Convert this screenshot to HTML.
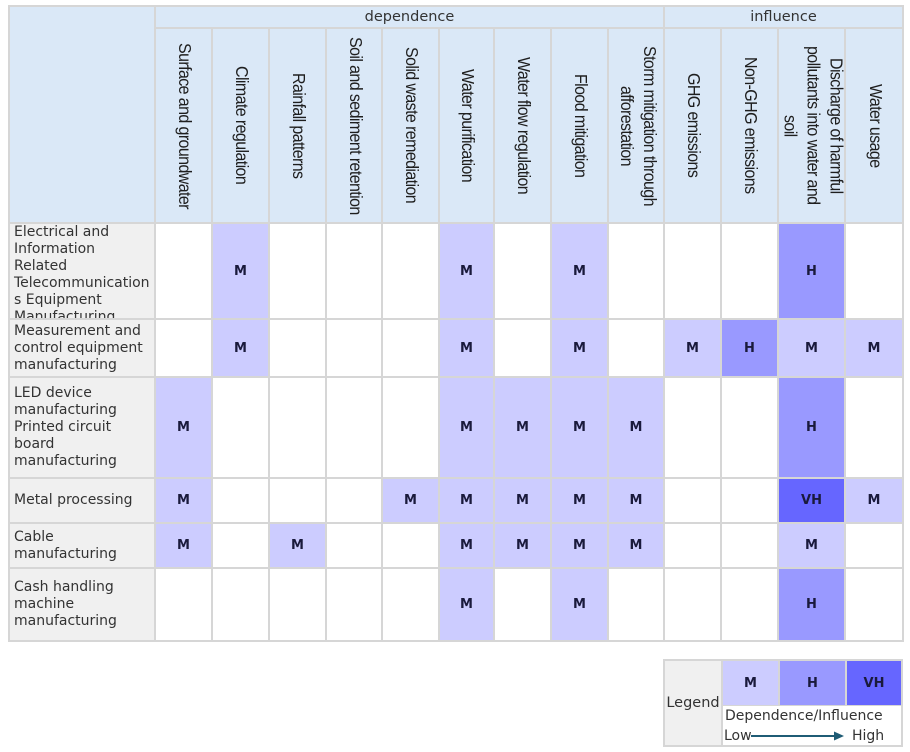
<!DOCTYPE html>
<html><head><meta charset="utf-8"><style>
html,body{margin:0;padding:0;background:#fff;}
body{width:910px;height:752px;position:relative;overflow:hidden;font-family:"DejaVu Sans","Liberation Sans",sans-serif;}
.a{position:absolute;box-sizing:border-box;}
.g{background:#d6d6d6;}
.hb{background:#dae8f7;}
.lb{background:#f0f0f0;color:#333;font-size:14px;line-height:17px;padding-left:4px;white-space:nowrap;overflow:hidden;display:flex;flex-direction:column;justify-content:center;}
.w{background:#fff;}
.m{background:#ccccff;}
.h{background:#9999ff;}
.vh{background:#6666ff;}
.c{display:flex;align-items:center;justify-content:center;font-weight:bold;font-size:13px;color:#1a1a3c;}
.vt{display:flex;align-items:center;justify-content:center;}
.vt span{writing-mode:vertical-rl;font-family:"Liberation Sans",sans-serif;font-size:16px;letter-spacing:-0.6px;line-height:20.5px;color:#1e1e1e;text-align:center;white-space:nowrap;transform:scaleX(1.12);}
.top{display:flex;align-items:center;justify-content:center;font-size:14.5px;color:#333;}
</style></head><body>
<div class="a g" style="left:8px;top:5px;width:896px;height:637px;"></div>
<div id="t"></div>
<!-- legend -->
<div class="a g" style="left:663px;top:659px;width:240px;height:88px;"></div>
<div class="a" style="left:665px;top:661px;width:56px;height:84px;background:#f0f0f0;display:flex;align-items:center;justify-content:center;font-size:14.5px;color:#333;">Legend</div>
<div class="a m c" style="left:723px;top:661px;width:55px;height:44px;">M</div>
<div class="a h c" style="left:780px;top:661px;width:65px;height:44px;">H</div>
<div class="a vh c" style="left:847px;top:661px;width:54px;height:44px;">VH</div>
<div class="a w" style="left:723px;top:706px;width:178px;height:39px;"></div>
<div class="a" style="left:725px;top:707px;font-size:14px;color:#333;line-height:18px;white-space:nowrap;">Dependence/Influence</div>
<div class="a" style="left:724px;top:727px;font-size:14px;color:#333;line-height:18px;">Low</div>
<div class="a" style="left:852px;top:727px;font-size:14px;color:#333;line-height:18px;">High</div>
<svg class="a" style="left:748px;top:729px;" width="100" height="14"><line x1="3" y1="7" x2="88" y2="7" stroke="#1f5c75" stroke-width="2"/><polygon points="86,2.5 96,7 86,11.5" fill="#1f5c75"/></svg>
<script>
var b=[8,154,211,268,325,381,438,493,550,607,663,720,777,844,902];
var y=[5,27,222,318,376,477,522,567,640];
var cols=["Surface and groundwater","Climate regulation","Rainfall patterns","Soil and sediment retention","Solid waste remediation","Water purification","Water flow regulation","Flood mitigation","Storm mitigation through<br>afforestation","GHG emissions","Non-GHG emissions","Discharge of harmful<br>pollutants into water and<br>soil","Water usage"];
var rows=[
["Electrical and<br>Information<br>Related<br>Telecommunication<br>s Equipment<br>Manufacturing",{2:"M",6:"M",8:"M",12:"H"},true],
["Measurement and<br>control equipment<br>manufacturing",{2:"M",6:"M",8:"M",10:"M",11:"H",12:"M",13:"M"}],
["LED device<br>manufacturing<br>Printed circuit<br>board<br>manufacturing",{1:"M",6:"M",7:"M",8:"M",9:"M",12:"H"}],
["Metal processing",{1:"M",5:"M",6:"M",7:"M",8:"M",9:"M",12:"VH",13:"M"}],
["Cable<br>manufacturing",{1:"M",3:"M",6:"M",7:"M",8:"M",9:"M",12:"M"}],
["Cash handling<br>machine<br>manufacturing",{6:"M",8:"M",12:"H"}]
];
var h="";
function box(cls,l,t,w,hh,inner,st){h+='<div class="a '+cls+'" style="left:'+l+'px;top:'+t+'px;width:'+w+'px;height:'+hh+'px;'+(st||'')+'">'+(inner||'')+'</div>';}
box("hb",10,7,144,215);
box("hb top",156,7,b[10]-156,20,"dependence");
box("hb top",b[10]+2,7,b[14]-b[10]-2,20,"influence");
for(var i=0;i<13;i++){box("hb vt",b[i+1]+2,29,b[i+2]-b[i+1]-2,193,"<span>"+cols[i]+"</span>");}
for(var r=0;r<6;r++){
 var t=y[r+2]+2,hh=y[r+3]-y[r+2]-2;
 var st=rows[r][2]?"justify-content:flex-start;padding-top:0px;":"";
 box("lb",10,t,144,hh,"<div>"+rows[r][0]+"</div>",st);
 for(var i=0;i<13;i++){
  var v=rows[r][1][i+1];
  var cls=v?(v=="M"?"m":v=="H"?"h":"vh"):"w";
  box(cls+" c",b[i+1]+2,t,b[i+2]-b[i+1]-2,hh,v||"");
 }
}
document.getElementById("t").innerHTML=h;
</script>
</body></html>
